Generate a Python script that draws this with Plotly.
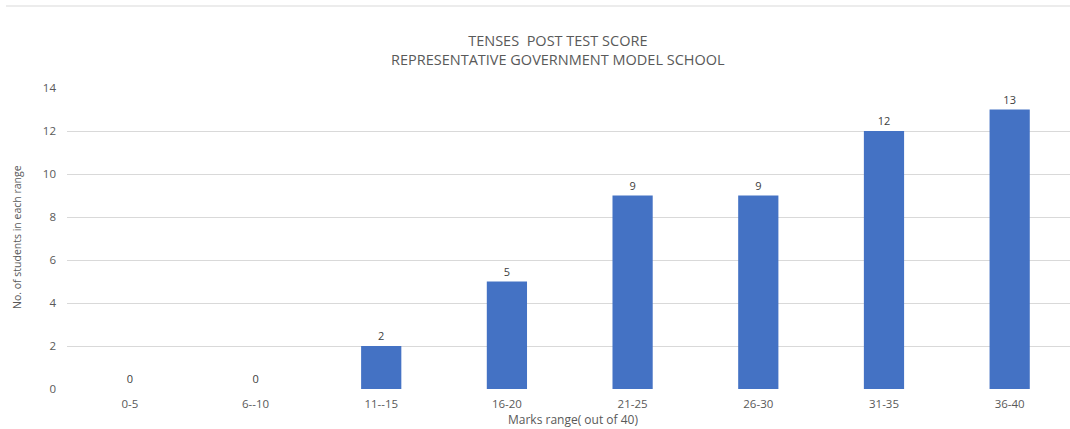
import plotly.graph_objects as go

categories = ["0-5", "6--10", "11--15", "16-20", "21-25", "26-30", "31-35", "36-40"]
students = [0, 0, 2, 5, 9, 9, 12, 13]
y_ticks = [0, 2, 4, 6, 8, 10, 12, 14]

W, H = 1070, 429
L, R, T, B = 67, 0, 88, 40
pw = W - L - R
ph = H - T - B

FONT = "Open Sans"
GRAY = "#595959"

fig = go.Figure()
fig.add_trace(go.Bar(
    x=list(range(len(categories))),
    y=students,
    marker=dict(color="#4472C4", line=dict(width=0)),
    text=[str(v) for v in students],
    textposition="outside",
    textfont=dict(family=FONT, size=11, color="#404040"),
    cliponaxis=False,
    width=0.32,
))

fig.update_layout(
    width=W, height=H,
    margin=dict(l=L, r=R, t=T, b=B, autoexpand=False),
    paper_bgcolor="white", plot_bgcolor="white",
    showlegend=False,
    font=dict(family=FONT, color=GRAY),
    xaxis=dict(
        range=[-0.5, 7.48],
        tickmode="array",
        tickvals=list(range(len(categories))),
        ticktext=categories,
        showgrid=False, zeroline=False, showline=False,
        tickfont=dict(family=FONT, size=11.5, color=GRAY),
        ticks="", ticklabelstandoff=6,
    ),
    yaxis=dict(
        range=[0, 14],
        tickmode="array",
        tickvals=y_ticks,
        showgrid=True, gridcolor="#d9d9d9", gridwidth=1,
        zeroline=False, showline=False,
        tickfont=dict(family=FONT, size=11.5, color=GRAY),
        ticks="", ticklabelstandoff=10,
    ),
)

# Chart title (two lines)
fig.add_annotation(
    text="TENSES  POST TEST SCORE<br>REPRESENTATIVE GOVERNMENT MODEL SCHOOL",
    xref="paper", yref="paper",
    x=(558 - L) / pw, y=(H - B - 49.5) / ph,
    showarrow=False, xanchor="center", yanchor="middle",
    font=dict(family=FONT, size=14.5, color=GRAY),
    align="center",
)
# Axis titles
fig.add_annotation(
    text="Marks range( out of 40)", xref="paper", yref="paper",
    x=(573 - L) / pw, y=(H - B - 419) / ph,
    showarrow=False, xanchor="center", yanchor="middle",
    font=dict(family=FONT, size=12, color=GRAY),
)
fig.add_annotation(
    text="No. of students in each range", xref="paper", yref="paper",
    x=(17 - L) / pw, y=(H - B - 237) / ph,
    showarrow=False, xanchor="center", yanchor="middle", textangle=-90,
    font=dict(family=FONT, size=10.5, color=GRAY),
)
# top border of the chart area
fig.add_shape(
    type="line", xref="paper", yref="paper",
    x0=(6 - L) / pw, x1=(W - L) / pw,
    y0=(H - B - 6) / ph, y1=(H - B - 6) / ph,
    line=dict(color="#d9d9d9", width=1),
)

fig.write_html("out.html")
